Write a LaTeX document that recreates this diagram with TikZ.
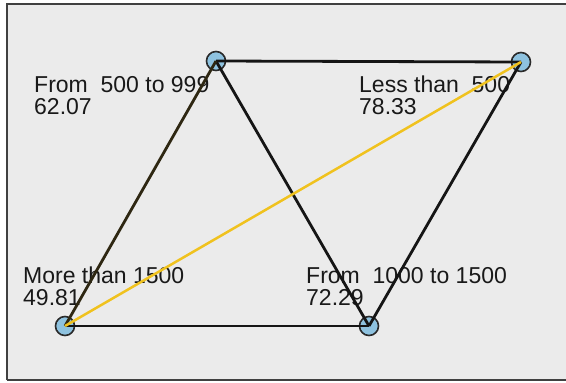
\documentclass[tikz,border=0pt]{standalone}
\usepackage{fontspec}
\setmainfont{Liberation Sans}
\definecolor{bgc}{HTML}{EBEBEB}
\definecolor{framec}{HTML}{404040}
\definecolor{nodefill}{HTML}{8EC2DF}
\definecolor{nodeline}{HTML}{2A2A2A}
\definecolor{edgeblk}{HTML}{151515}
\definecolor{edgeolive}{HTML}{2E2712}
\definecolor{edgeyel}{HTML}{F0C21E}
\tikzset{
  vert/.style={circle, draw=nodeline, fill=nodefill, line width=1.6pt, minimum size=19pt, inner sep=0pt},
  lbl/.style={anchor=north west, inner sep=0pt, align=left, font=\fontsize{23}{22}\selectfont, text=black!90},
  edge/.style={line width=2.8pt, draw=edgeblk},
}
\begin{document}
\begin{tikzpicture}[x=1pt,y=-1pt]
\useasboundingbox (0,0) rectangle (566,383);
\fill[white] (0,0) rectangle (566,383);
\fill[bgc] (7,4) rectangle (566,380);
\draw[framec, line width=2pt] (7,380) -- (7,4) -- (566,4);
\draw[framec, line width=1.5pt] (7,380) -- (566,380);
% labels
\node[lbl] (la) at (34,76) {From\ \ 500 to 999\\62.07};
\node[lbl] (lb) at (359,76) {Less than\ \ 500\\78.33};
\node[lbl] (lc) at (23,267) {More than 1500\\49.81};
\node[lbl] (ld) at (306,267) {From\ \ 1000 to 1500\\72.29};
% vertices
\node[vert] (a) at (216,61) {};
\node[vert] (b) at (521,62) {};
\node[vert] (c) at (65,326) {};
\node[vert] (d) at (369,326) {};
% edges
\draw[edge] (a.center) -- (b.center);
\draw[edge] (c.center) -- (d.center);
\draw[edge] (a.center) -- (d.center);
\draw[edge] (b.center) -- (d.center);
\draw[edge, draw=edgeolive] (a.center) -- (c.center);
\draw[edge, draw=edgeyel, line width=2.5pt] (c.center) -- (b.center);
\end{tikzpicture}
\end{document}
